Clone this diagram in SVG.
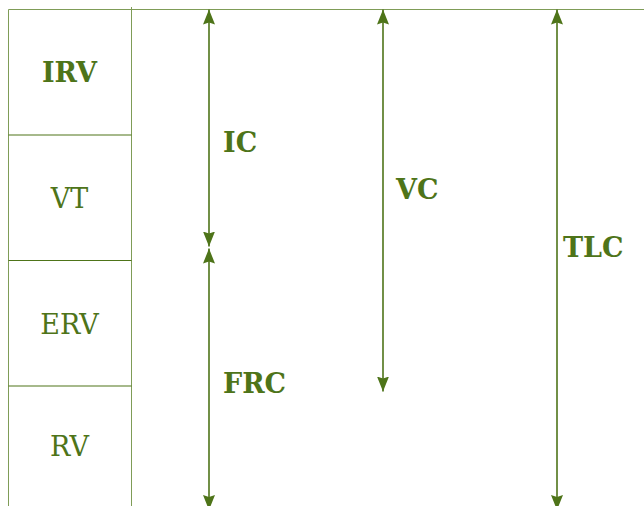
<svg xmlns="http://www.w3.org/2000/svg" width="644" height="506" viewBox="0 0 644 506">
  <style>
    .frame { stroke: #7f9c57; stroke-width: 1; fill: none; }
    .divider { stroke: #4e7419; stroke-width: 1.2; fill: none; }
    .arrow { stroke: #4e7419; stroke-width: 1.6; fill: none; marker-start: url(#head); marker-end: url(#head); }
    .lbl { font-family: "DejaVu Serif", "Liberation Serif", serif; fill: #4e7419; font-size: 27px; }
    .b { font-weight: bold; }
    .c { text-anchor: middle; }
  </style>
  <defs>
    <marker id="head" viewBox="0 0 15 12" refX="15" refY="6" markerWidth="15" markerHeight="12" orient="auto-start-reverse" markerUnits="userSpaceOnUse">
      <path d="M0,0 L15,6 L0,12 L2,6 Z" fill="#4e7419"/>
    </marker>
  </defs>

  <!-- volume column -->
  <g id="column">
    <line class="frame" x1="8.5" y1="9.5" x2="644" y2="9.5"/>
    <line class="frame" x1="8.5" y1="9.5" x2="8.5" y2="506"/>
    <line class="frame" x1="131.5" y1="7" x2="131.5" y2="506"/>
  </g>
  <g id="irv">
    <text class="lbl b c" x="69.5" y="82">IRV</text>
  </g>
  <g id="vt">
    <line class="divider" x1="8.5" y1="135" x2="131.5" y2="135"/>
    <text class="lbl c" x="69.5" y="208">VT</text>
  </g>
  <g id="erv">
    <line class="divider" x1="8.5" y1="260.5" x2="131.5" y2="260.5"/>
    <text class="lbl c" x="69.5" y="334">ERV</text>
  </g>
  <g id="rv">
    <line class="divider" x1="8.5" y1="386" x2="131.5" y2="386"/>
    <text class="lbl c" x="69.5" y="456">RV</text>
  </g>

  <!-- capacity spans -->
  <g id="connectors">
    <line class="arrow" x1="209" y1="9.5" x2="209" y2="246.5"/>
    <line class="arrow" x1="209" y1="248.5" x2="209" y2="510"/>
    <line class="arrow" x1="383" y1="9.5" x2="383" y2="391.5"/>
    <line class="arrow" x1="557" y1="9.5" x2="557" y2="510"/>
  </g>

  <g id="ic"><text class="lbl b" x="223" y="152">IC</text></g>
  <g id="frc"><text class="lbl b" x="223" y="393">FRC</text></g>
  <g id="vc"><text class="lbl b" x="396" y="199">VC</text></g>
  <g id="tlc"><text class="lbl b" x="563" y="257">TLC</text></g>
</svg>
